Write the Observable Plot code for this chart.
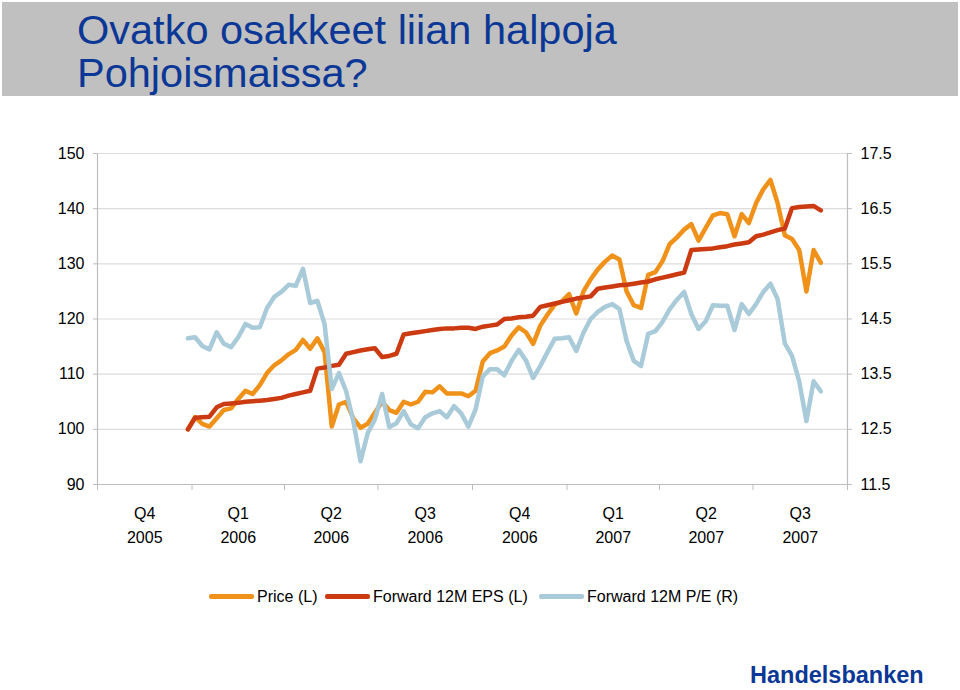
<!DOCTYPE html>
<html>
<head>
<meta charset="utf-8">
<script src="https://cdn.jsdelivr.net/npm/d3@7"></script>
<script src="https://cdn.jsdelivr.net/npm/@observablehq/plot@0.6"></script>
<style>
  html, body { margin: 0; padding: 0; background: #fff; }
  body { width: 960px; height: 690px; position: relative; overflow: hidden; font-family: "Liberation Sans", Arial, sans-serif; }
  #header { position: absolute; left: 2px; top: 2px; width: 956px; height: 94px; background: #c0c0c0; }
  #title { position: absolute; left: 75px; top: 6px; margin: 0; font-size: 41.5px; line-height: 43px; font-weight: normal; color: #0b3796; }
  #chart { position: absolute; left: 0; top: 98px; }
  #legend { position: absolute; left: 0; top: 586px; width: 960px; height: 22px; font-size: 16px; color: #000; }
  .item { position: absolute; top: 0; height: 22px; line-height: 22px; white-space: nowrap; }
  .sw { display: inline-block; width: 45px; height: 5px; border-radius: 2px; vertical-align: middle; margin-right: 3px; position: relative; top: -1px; }
  #footer { position: absolute; left: 750px; top: 662px; font-size: 23.5px; font-weight: bold; color: #0b3796; }
</style>
</head>
<body>
<div id="header"><h1 id="title">Ovatko osakkeet liian halpoja<br>Pohjoismaissa?</h1></div>
<div id="chart"></div>
<div id="legend"></div>
<div id="footer">Handelsbanken</div>
<script>
// ---- data (weekly observations from 28 Dec 2005) ----
const firstDate = "2005-12-28";
const price = [100,102.2,101,100.5,102,103.5,103.8,105.5,107,106.4,108,110.2,111.6,112.5,113.6,114.4,116.2,114.6,116.5,114,
  100.5,104.5,105,102,100.3,101,103,105,103.5,103,105,104.5,105,106.8,106.7,107.8,106.5,106.5,106.5,106,
  107,112.3,113.8,114.3,115,117,118.5,117.6,115.5,118.8,120.8,122.6,123.2,124.5,121,125,127.2,129,130.4,131.5,
  130.8,125,122.5,122,128,128.5,130.5,133.6,134.8,136.2,137.2,134.2,136.5,138.8,139.2,139,135,139,137.4,141,
  143.5,145.2,141,135.2,134.5,132.5,125,132.5,130.2];
const eps = [100,102.1,102.2,102.3,104,104.6,104.7,104.8,105,105.1,105.2,105.3,105.5,105.7,106.1,106.4,106.7,107,111,111.2,
  111.5,111.7,113.7,114,114.3,114.5,114.7,113.1,113.3,113.7,117.2,117.4,117.6,117.8,118,118.2,118.3,118.3,118.4,118.4,
  118.2,118.6,118.8,119,120,120.1,120.3,120.4,120.6,122.2,122.5,122.8,123.1,123.4,123.7,123.9,124.1,125.5,125.7,125.9,
  126.1,126.2,126.4,126.6,126.8,127.2,127.5,127.8,128.1,128.4,132.5,132.6,132.7,132.8,133,133.2,133.5,133.7,133.9,135,
  135.3,135.7,136.1,136.4,140.1,140.3,140.4,140.5,139.7];
const pe = [14.15,14.17,14.01,13.95,14.26,14.05,13.99,14.17,14.41,14.34,14.35,14.70,14.90,14.99,15.12,15.10,15.41,14.79,14.83,14.41,
  13.23,13.52,13.19,12.65,11.92,12.43,12.68,13.14,12.54,12.61,12.83,12.59,12.52,12.72,12.79,12.83,12.72,12.92,12.79,12.55,
  12.86,13.46,13.59,13.59,13.48,13.74,13.94,13.75,13.43,13.65,13.90,14.14,14.15,14.17,13.92,14.25,14.50,14.63,14.72,14.77,
  14.68,14.10,13.74,13.65,14.23,14.28,14.45,14.68,14.85,14.99,14.59,14.32,14.46,14.75,14.74,14.74,14.30,14.77,14.59,14.77,
  14.99,15.14,14.86,14.06,13.83,13.37,12.65,13.37,13.19];

const leftTicks = [90,100,110,120,130,140,150];
const rightTicks = ["11.5","12.5","13.5","14.5","15.5","16.5","17.5"];
const quarterStarts = ["2005-10-01","2006-01-01","2006-04-01","2006-07-01","2006-10-01","2007-01-01","2007-04-01","2007-07-01","2007-10-01"];
const quarterNames = ["Q4","Q1","Q2","Q3","Q4","Q1","Q2","Q3"];
const quarterYears = ["2005","2006","2006","2006","2006","2007","2007","2007"];
const seriesNames = ["Price (L)","Forward 12M EPS (L)","Forward 12M P/E (R)"];
const seriesColors = ["#f0911a","#cc3a12","#a8cad9"];

// ---- build tables ----
const t0 = new Date(firstDate + "T00:00:00Z");
const dates = price.map((_, i) => new Date(t0.getTime() + i * 7 * 864e5));
const qStarts = quarterStarts.map(s => new Date(s + "T00:00:00Z"));
const quarters = quarterNames.map((q, i) => ({
  mid: new Date((qStarts[i].getTime() + qStarts[i + 1].getTime()) / 2),
  q, year: quarterYears[i]
}));
// right axis (P/E) mapped onto left axis: 11.5 -> 90, 17.5 -> 150
const peToLeft = v => 90 + (v - 11.5) * 10;
const rows = (arr, f = v => v) => arr.map((v, i) => ({date: dates[i], v: f(v)}));

const chart = Plot.plot({
  width: 960,
  height: 470,
  marginLeft: 97,
  marginRight: 113,
  marginTop: 55,
  marginBottom: 84,
  style: {fontFamily: "'Liberation Sans', Arial, sans-serif", fontSize: "16px", color: "#000", background: "transparent"},
  x: {type: "utc", domain: [qStarts[0], qStarts[qStarts.length - 1]]},
  y: {domain: [90, 150]},
  marks: [
    Plot.gridY(leftTicks.slice(1), {stroke: "#dcdcdc", strokeOpacity: 1, strokeWidth: 1.2}),
    Plot.ruleY([90], {stroke: "#bdbdbd", strokeWidth: 1.2}),
    Plot.ruleX([qStarts[0], qStarts[qStarts.length - 1]], {stroke: "#bdbdbd", strokeWidth: 1.2}),
    Plot.axisX({ticks: qStarts, tickSize: 6, text: null, stroke: "#bdbdbd", label: null}),
    Plot.axisY({ticks: leftTicks, anchor: "left", tickSize: 4, text: null, stroke: "#bdbdbd", label: null}),
    Plot.axisY({ticks: leftTicks, anchor: "left", tickSize: 0, tickPadding: 13, fontSize: 16, label: null}),
    Plot.axisY({ticks: leftTicks, anchor: "right", tickSize: 4, text: null, stroke: "#bdbdbd", label: null}),
    Plot.axisY({ticks: leftTicks, anchor: "right", tickSize: 0, tickPadding: 13, fontSize: 16, label: null,
      tickFormat: d => rightTicks[leftTicks.indexOf(d)]}),
    Plot.text(quarters, {x: "mid", y: () => 90, text: "q", dy: 29, fontSize: 16, fill: "#000"}),
    Plot.text(quarters, {x: "mid", y: () => 90, text: "year", dy: 53, fontSize: 16, fill: "#000"}),
    Plot.line(rows(price), {x: "date", y: "v", stroke: seriesColors[0], strokeWidth: 4.5, strokeLinejoin: "round", strokeLinecap: "round"}),
    Plot.line(rows(eps), {x: "date", y: "v", stroke: seriesColors[1], strokeWidth: 4.5, strokeLinejoin: "round", strokeLinecap: "round"}),
    Plot.line(rows(pe, peToLeft), {x: "date", y: "v", stroke: seriesColors[2], strokeWidth: 4.5, strokeLinejoin: "round", strokeLinecap: "round"})
  ]
});
document.getElementById("chart").appendChild(chart);

// legend
const legend = document.getElementById("legend");
const lefts = [209, 325, 539];
seriesNames.forEach((name, i) => {
  const it = document.createElement("div");
  it.className = "item";
  it.style.left = lefts[i] + "px";
  const sw = document.createElement("span");
  sw.className = "sw";
  sw.style.background = seriesColors[i];
  it.appendChild(sw);
  it.appendChild(document.createTextNode(name));
  legend.appendChild(it);
});
</script>
</body>
</html>
